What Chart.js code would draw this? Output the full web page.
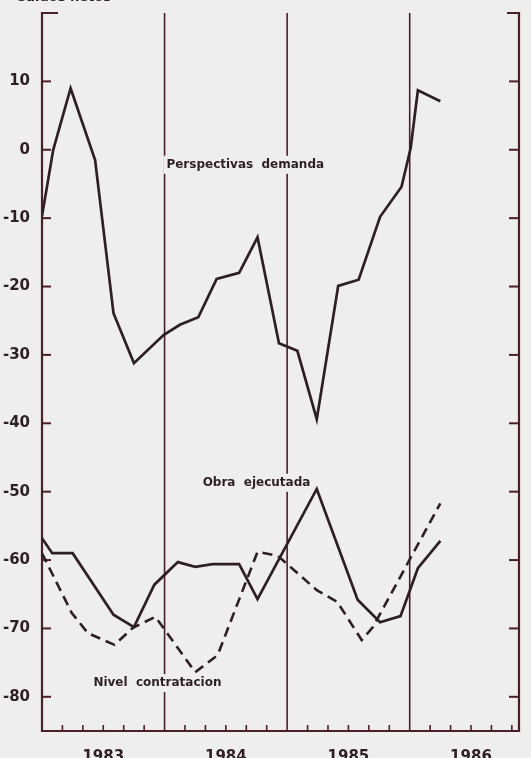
<!DOCTYPE html>
<html><head><meta charset="utf-8">
<script src="https://cdn.jsdelivr.net/npm/chart.js@4/dist/chart.umd.min.js"></script>
<style>html,body{margin:0;padding:0;background:#efeeee;}#wrap{width:531px;height:758px;position:relative;overflow:hidden;}</style>
</head><body><div id="wrap"><canvas id="c" width="531" height="758"></canvas></div>
<script>
// Months counted from January 1983 (0 = start of 1983)
const yearLabels = ['1983', '1984', '1985', '1986'];
const yearMidMonths = [6, 18, 30, 42];
const yearStartMonths = [12, 24, 36];
const yTickValues = [10, 0, -10, -20, -30, -40, -50, -60, -70, -80];

const demandaMonths = [0, 1.1, 2.8, 5.2, 7.0, 9.0, 11.9, 13.5, 15.3, 17.1, 19.3, 21.1, 23.2, 25.0, 26.9, 29.0, 31.0, 33.1, 35.2, 36.1, 36.8, 39.0];
const demandaValues = [-9.7, 0, 9.0, -1.5, -23.9, -31.2, -27.1, -25.6, -24.5, -18.9, -18.0, -12.8, -28.3, -29.4, -39.4, -19.9, -19.0, -9.8, -5.4, 0.3, 8.7, 7.1];

const obraMonths = [0, 1.0, 3.0, 7.0, 9.0, 11.0, 13.3, 15.0, 16.7, 19.3, 21.1, 26.9, 30.9, 33.1, 35.1, 36.8, 39.0];
const obraValues = [-56.8, -59.0, -59.0, -68.0, -69.8, -63.6, -60.3, -61.0, -60.6, -60.6, -65.7, -49.6, -65.8, -69.1, -68.2, -61.2, -57.2];

const nivelMonths = [0, 2.9, 4.5, 7.1, 8.9, 11.1, 15.0, 17.2, 21.1, 23.1, 26.9, 28.9, 31.3, 32.4, 39.0];
const nivelValues = [-59.0, -67.7, -70.7, -72.4, -69.9, -68.3, -76.4, -73.9, -58.8, -59.4, -64.4, -66.1, -71.7, -69.8, -51.7];

const seriesLabels = ['Perspectivas  demanda', 'Obra  ejecutada', 'Nivel  contratacion'];
const yAxisTitle = 'Saldos netos';

const INK = '#2e1f25';
const FRAME = '#4a1f27';
const BG = '#efeeee';

function pts(xs, ys) { return xs.map((x, i) => ({x: x, y: ys[i]})); }

const frame = {
  id: 'frame',
  beforeDraw(chart) {
    const ctx = chart.ctx;
    ctx.save(); ctx.fillStyle = BG; ctx.fillRect(0, 0, chart.width, chart.height); ctx.restore();
  },
  beforeDatasetsDraw(chart) {
    const {ctx, chartArea: a, scales: {x, y}} = chart;
    ctx.save();
    ctx.strokeStyle = FRAME;
    ctx.lineCap = 'butt';
    ctx.lineWidth = 1.6;
    yearStartMonths.forEach(m => {
      const px = x.getPixelForValue(m);
      ctx.beginPath(); ctx.moveTo(px, a.top); ctx.lineTo(px, a.bottom); ctx.stroke();
    });
    ctx.lineWidth = 2.2;
    ctx.beginPath();
    ctx.moveTo(a.left + 16, a.top); ctx.lineTo(a.left, a.top); ctx.lineTo(a.left, a.bottom);
    ctx.lineTo(a.right, a.bottom); ctx.lineTo(a.right, a.top); ctx.lineTo(a.right - 12, a.top);
    ctx.stroke();
    ctx.lineWidth = 2;
    yTickValues.forEach(v => {
      const py = y.getPixelForValue(v);
      ctx.beginPath(); ctx.moveTo(a.left, py); ctx.lineTo(a.left + 9, py); ctx.stroke();
      ctx.beginPath(); ctx.moveTo(a.right - 10, py); ctx.lineTo(a.right, py); ctx.stroke();
    });
    ctx.lineWidth = 1.6;
    for (let m = 2; m < x.max; m += 2) {
      if (m % 12 === 0) continue;
      const px = x.getPixelForValue(m);
      ctx.beginPath(); ctx.moveTo(px, a.bottom); ctx.lineTo(px, a.bottom - 6); ctx.stroke();
    }
    ctx.font = 'bold 12px "DejaVu Sans"';
    labelSpots(chart).forEach(l => {
      const w = ctx.measureText(l.text).width;
      ctx.fillStyle = BG;
      ctx.fillRect(l.x - w / 2 - 3, l.y - 9, w + 6, 18);
    });
    ctx.restore();
  },
  afterDatasetsDraw(chart) {
    const ctx = chart.ctx;
    ctx.save();
    ctx.fillStyle = INK;
    ctx.font = 'bold 12px "DejaVu Sans"';
    ctx.textAlign = 'center'; ctx.textBaseline = 'middle';
    labelSpots(chart).forEach(l => ctx.fillText(l.text, l.x, l.y));
    ctx.font = 'bold 13px "DejaVu Sans"';
    ctx.textBaseline = 'alphabetic';
    ctx.fillText(yAxisTitle, 64, 1);
    ctx.restore();
  }
};

function labelSpots(chart) {
  const {x, y} = chart.scales;
  return [
    {text: seriesLabels[0], x: x.getPixelForValue(19.9), y: y.getPixelForValue(-2.2)},
    {text: seriesLabels[1], x: x.getPixelForValue(21.0), y: y.getPixelForValue(-48.7)},
    {text: seriesLabels[2], x: x.getPixelForValue(11.3), y: y.getPixelForValue(-78.0)}
  ];
}

new Chart(document.getElementById('c'), {
  type: 'line',
  data: {
    datasets: [
      {label: seriesLabels[0], data: pts(demandaMonths, demandaValues), borderColor: INK, borderWidth: 2.7, pointRadius: 0, tension: 0},
      {label: seriesLabels[1], data: pts(obraMonths, obraValues), borderColor: INK, borderWidth: 2.7, pointRadius: 0, tension: 0},
      {label: seriesLabels[2], data: pts(nivelMonths, nivelValues), borderColor: INK, borderWidth: 2.6, borderDash: [10, 6], pointRadius: 0, tension: 0}
    ]
  },
  options: {
    responsive: false,
    devicePixelRatio: 1,
    animation: false,
    layout: {padding: {top: 13, right: 12, left: 0, bottom: 0}},
    plugins: {legend: {display: false}, tooltip: {enabled: false}},
    scales: {
      x: {
        type: 'linear', min: 0, max: 46.7,
        grid: {display: false}, border: {display: false},
        afterBuildTicks: s => { s.ticks = yearMidMonths.map(v => ({value: v})); },
        afterFit: s => { s.height = 27; },
        ticks: {
          autoSkip: false, maxRotation: 0, padding: 9,
          color: INK, font: {family: 'DejaVu Sans', weight: 'bold', size: 15},
          callback: v => yearLabels[yearMidMonths.indexOf(v)]
        }
      },
      y: {
        type: 'linear', min: -85, max: 20,
        grid: {display: false}, border: {display: false},
        afterBuildTicks: s => { s.ticks = yTickValues.map(v => ({value: v})); },
        afterFit: s => { s.width = 42; },
        ticks: {
          padding: 4, color: INK,
          font: {family: 'DejaVu Sans', weight: 'bold', size: 15},
          callback: v => String(v)
        }
      }
    }
  },
  plugins: [frame]
});
</script>
</body></html>
